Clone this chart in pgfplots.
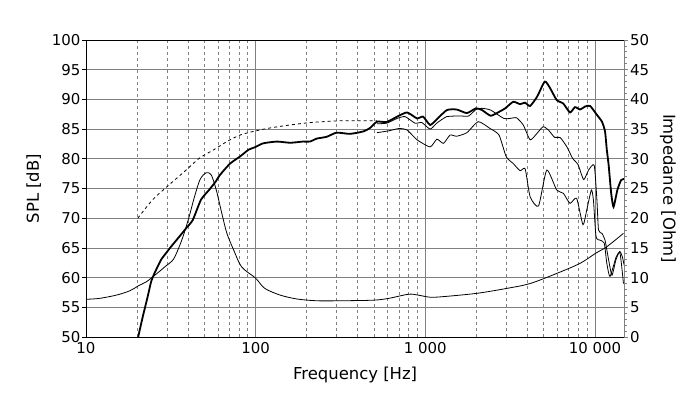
\documentclass[border=0pt]{standalone}
\usepackage{pgfplots}
\pgfplotsset{compat=1.18}
\usepackage{fontspec}
\setmainfont{DejaVu Sans}

\pgfplotstableread{
f spl
20.3 50.0
21.6 53.4
23.1 56.8
24.2 59.3
25.3 60.7
27.7 63.0
29.6 64.1
31.7 65.2
35.5 66.9
38.9 68.3
42.6 69.7
47.6 73.1
53.3 74.8
57.9 76.1
61.7 77.3
70.7 79.2
81 80.4
90.6 81.5
100 82.0
110.6 82.6
133.5 82.9
160 82.7
190 82.9
209 82.9
229 83.4
262 83.7
300 84.4
360 84.2
430 84.6
473 85.2
519 86.25
592 86.2
683 87.1
781 87.8
894 86.8
970 87.1
1068 85.7
1168 86.65
1340 88.2
1530 88.3
1760 87.7
1990 88.5
2160 88.2
2430 87.25
2720 87.9
2960 88.5
3300 89.6
3620 89.2
3870 89.45
4146 88.9
4560 90.45
5060 93.0
5440 91.9
5950 89.9
6510 89.3
7130 87.8
7630 88.7
8170 88.3
8750 88.8
9360 88.9
10270 87.4
11000 86.25
11470 84.6
11750 81.5
12040 79.0
12470 74.2
12870 71.9
13560 74.75
14260 76.4
14900 76.6
}\mainspl

\pgfplotstableread{
f spl
519 85.9
592 86.0
683 86.8
760 87.1
870 86.0
955 86.1
1068 85.0
1168 86.0
1340 87.1
1620 87.2
1800 87.2
1990 88.3
2160 88.5
2430 88.2
2900 86.8
3160 86.8
3450 86.9
3780 85.7
4150 83.2
4560 84.3
4950 85.4
5320 84.85
5790 83.6
6230 83.6
6840 82.0
7380 80.1
7960 79.0
8580 76.5
9170 78.1
9900 78.9
10270 73.1
10500 68.0
11000 67.45
11470 66.3
12040 63.0
12600 60.4
13300 63.0
14000 64.4
14500 63.5
14900 62.0
}\offa

\pgfplotstableread{
f spl
519 84.4
607 84.7
700 85.1
781 84.85
894 83.2
1068 82.0
1170 83.3
1280 82.6
1400 84.0
1530 83.8
1760 84.4
2050 86.25
2410 85.1
2720 84.0
3000 80.35
3300 79.2
3620 78.0
3880 78.3
4150 73.6
4650 72.05
5200 78.1
5950 74.75
6510 74.2
7130 72.5
7800 73.35
8500 68.9
8950 71.4
9530 74.75
9800 73.0
10150 66.9
10720 66.3
11350 65.8
11750 62.4
12270 60.2
13350 63.5
14060 64.1
14730 59.0
}\offb

\pgfplotstableread{
f spl
20.2 70.0
24.7 73.1
30.3 75.4
38.9 78.1
46.6 80.1
57.2 81.6
67.7 82.9
81 84.0
100 84.7
122 85.2
160 85.7
209 86.1
250 86.25
315 86.4
520 86.4
}\dashedspl

\pgfplotstableread{
f z
10 6.35
12 6.5
15.2 7.07
18.2 7.8
20.3 8.6
22.7 9.3
25.7 10.5
29.4 11.9
32.8 13.1
35.9 15.6
38.0 17.6
40.5 20.2
43.5 23.5
47.0 26.5
51.1 27.65
54.7 27.3
58.6 24.75
63.2 20.8
67.7 17.45
74.2 14.65
82.7 11.8
100 9.9
113 8.2
139 7.07
175 6.4
229 6.1
315 6.1
494 6.2
607 6.5
796 7.2
900 7.07
1068 6.7
1280 6.8
2010 7.35
3050 8.2
4146 9.0
5950 10.7
8170 12.4
10100 14.1
11750 15.2
14730 17.45
}\imp

\begin{document}
\begin{tikzpicture}
\pgfplotsset{
  every axis/.append style={
    scale only axis, width=538.3bp, height=297bp,
    xmode=log, xmin=10, xmax=14900,
    /pgf/number format/assume math mode=true,
    tick label style={font=\fontsize{15}{17}\selectfont, inner sep=1.5bp},
    label style={font=\fontsize{16.5}{19}\selectfont},
    tick align=outside, major tick length=4bp, minor tick length=2.5bp,
  }
}
\begin{axis}[
  name=ax,
  ymin=50, ymax=100,
  xtick={10,100,1000,10000},
  xticklabels={10,100,1 000,10 000},
  minor xtick={20,30,40,50,60,70,80,90,200,300,400,500,600,700,800,900,2000,3000,4000,5000,6000,7000,8000,9000},
  ytick={50,55,60,65,70,75,80,85,90,95,100},
  xmajorgrids=true, xminorgrids=true, ymajorgrids=true,
  major grid style={draw=black!50, line width=0.8bp},
  minor grid style={draw=black!50, line width=0.8bp, dash pattern=on 3bp off 3bp},
  axis x line*=box, axis y line*=left,
  axis line style={black, line width=0.8bp},
  xtick style={draw=none},
  ytick style={black, line width=0.8bp},
  xlabel={Frequency [Hz]},
  ylabel={SPL [dB]},
  xlabel style={at={(axis description cs:0.5,-0.128)}, anchor=center},
  ylabel style={at={(axis description cs:-0.097,0.5)}, anchor=center, rotate=0},
]
\addplot[black, line width=0.8bp, dash pattern=on 3bp off 3bp, smooth, tension=0.5] table[x=f,y=spl] {\dashedspl};
\addplot[black, line width=0.8bp, smooth, tension=0.35] table[x=f,y=spl] {\offb};
\addplot[black, line width=0.8bp, smooth, tension=0.35] table[x=f,y=spl] {\offa};
\addplot[black, line width=1.8bp, smooth, tension=0.35] table[x=f,y=spl] {\mainspl};
\end{axis}
\begin{axis}[
  at={(ax.south west)}, anchor=south west,
  ymin=0, ymax=50,
  axis x line=none, axis y line*=right,
  ytick={0,5,10,15,20,25,30,35,40,45,50},
  minor y tick num=4,
  axis line style={black!50, line width=0.8bp},
  ytick style={black!50, line width=0.8bp},
  ylabel={Impedance [Ohm]},
  ylabel style={at={(axis description cs:1.0812,0.5)}, anchor=center, rotate=180},
]
\addplot[black, line width=0.8bp, smooth, tension=0.5] table[x=f,y=z] {\imp};
\end{axis}
\pgfresetboundingbox
\useasboundingbox ([shift={(-86bp,-62bp)}]ax.south west) rectangle ([shift={(75.7bp,40bp)}]ax.north east);
\end{tikzpicture}
\end{document}
